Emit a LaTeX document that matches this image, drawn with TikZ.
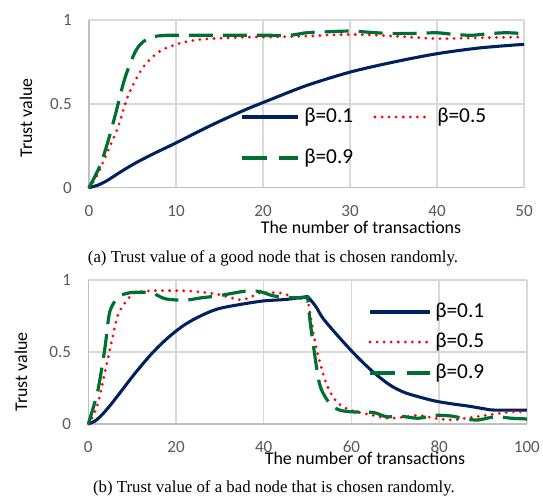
\documentclass[tikz,border=0pt]{standalone}
\usepackage{fontspec}
\setmainfont{Liberation Serif}
\newfontfamily\carl{Carlito}
\definecolor{navyc}{RGB}{0,32,96}
\definecolor{redc}{RGB}{255,0,0}
\definecolor{greenc}{RGB}{0,112,50}
\definecolor{gridc}{RGB}{217,217,217}
\definecolor{axisc}{RGB}{191,191,191}
\definecolor{tickc}{RGB}{89,89,89}
\tikzset{
 gridline/.style={draw=gridc, line width=1.1pt},
 axisline/.style={draw=axisc, line width=1.1pt},
 ticklab/.style={font=\carl\fontsize{12.8}{14}\selectfont, text=tickc, inner sep=0pt},
 axtitle/.style={font=\carl\fontsize{13.4}{15}\selectfont, inner sep=0pt},
 legtext/.style={font=\carl\fontsize{16}{18}\selectfont, inner sep=0pt, anchor=west},
 captext/.style={font=\fontsize{12.6}{14}\selectfont, inner sep=0pt},
 sline/.style={draw=navyc, line width=2.3pt, line join=round},
 dline/.style={draw=redc, line width=2.3pt, dash pattern=on 0pt off 5.3pt, line cap=round},
 gline/.style={draw=greenc, line width=2.4pt, dash pattern=on 18pt off 7.5pt},
}
\begin{document}
\begin{tikzpicture}[x=0.75pt, y=-0.75pt]
\path[use as bounding box] (0,0) rectangle (543,497);

% ---------------- top plot ----------------
\begin{scope}[shift={(66.75pt,-140.775pt)}, x=6.525pt, y=125.625pt]
  \foreach \i in {10,20,30,40,50} \draw[gridline] (\i,0) -- (\i,1);
  \foreach \j in {0.5,1} \draw[gridline] (0,\j) -- (50,\j);
  \draw[axisline] (0,1) -- (0,0) -- (50,0);
  \foreach \i in {0,10,20,30,40,50}
    \node[ticklab] (tx\i) at ([yshift=-17.25pt]\i,0) {\i};
  \node[ticklab, anchor=east] (ty0) at ([xshift=-12.75pt]0,0) {0};
  \node[ticklab, anchor=east] (ty5) at ([xshift=-12.75pt]0,0.5) {0.5};
  \node[ticklab, anchor=east] (ty1) at ([xshift=-12.75pt]0,1) {1};
  \draw[sline] plot[smooth] coordinates {(0,0) (1,0.015) (2,0.04) (3.5,0.09) (5.3,0.146) (7.5,0.205) (9.9,0.265) (14.1,0.374) (17.9,0.464) (20.8,0.525) (25,0.61) (30,0.69) (35,0.75) (40,0.80) (45,0.835) (50,0.856)};
  \draw[dline] plot[smooth] coordinates {(0,0) (0.8,0.06) (1.8,0.175) (2.6,0.27) (3.4,0.37) (4.5,0.55) (6.1,0.71) (8,0.81) (10.3,0.86) (13,0.886) (17.9,0.898) (21,0.90) (25,0.905) (30,0.915) (35,0.905) (40,0.89) (45,0.895) (50,0.90)};
  \draw[gline] plot[smooth] coordinates {(0,0) (1.3,0.135) (2.2,0.28) (3.0,0.43) (4.1,0.65) (5.3,0.81) (6.2,0.87) (7.2,0.90) (9,0.91) (11,0.91) (15,0.91) (20,0.91) (23,0.91) (25,0.925) (27,0.93) (30,0.935) (33,0.925) (35,0.92) (38,0.922) (40,0.925) (42,0.915) (44,0.91) (46,0.92) (48,0.925) (50,0.92)};
\end{scope}
\node[axtitle] (xta) at (361,227) {The number of transactions};
\node[axtitle, rotate=90] (yta) at (26,118) {Trust value};
% legend top
\coordinate (la1) at (242,117); \coordinate (la2) at (298,117);
\coordinate (la3) at (375,117); \coordinate (la4) at (430,117);
\coordinate (la5) at (242,158); \coordinate (la6) at (298,158);
\draw[sline] (la1) -- (la2);
\draw[dline] (la3) -- (la4);
\draw[gline, dash pattern=on 19pt off 9pt] (la5) -- (la6);
\node[legtext] (lta1) at (304,117) {β=0.1};
\node[legtext] (lta2) at (437,117) {β=0.5};
\node[legtext] (lta3) at (304,158) {β=0.9};
\node[captext] (capa) at (273,258) {(a) Trust value of a good node that is chosen randomly.};

% ---------------- bottom plot ----------------
\begin{scope}[shift={(66.225pt,-318pt)}, x=3.2895pt, y=108pt]
  \foreach \i in {20,40,60,80,100} \draw[gridline] (\i,0) -- (\i,1);
  \foreach \j in {0.5,1} \draw[gridline] (0,\j) -- (100,\j);
  \draw[axisline] (0,1) -- (0,0) -- (100,0);
  \foreach \i in {0,20,40,60,80,100}
    \node[ticklab] (bx\i) at ([yshift=-17.25pt]\i,0) {\i};
  \node[ticklab, anchor=east] (by0) at ([xshift=-12.75pt]0,0) {0};
  \node[ticklab, anchor=east] (by5) at ([xshift=-12.75pt]0,0.5) {0.5};
  \node[ticklab, anchor=east] (by1) at ([xshift=-12.75pt]0,1) {1};
  \draw[sline] plot[smooth] coordinates {(0,0) (0.4,0.005) (1.5,0.02) (3,0.06) (5,0.13) (6.8,0.2) (10.6,0.35) (14.5,0.49) (18.2,0.6) (22,0.69) (25.9,0.755) (29.6,0.80) (34.6,0.83) (40,0.855) (45,0.865) (50,0.885)}
     -- plot[smooth] coordinates {(50,0.885) (51,0.85) (52,0.81) (53.6,0.73) (57.4,0.595) (61.2,0.47) (65,0.36) (68.8,0.27) (72,0.22) (75.2,0.19) (79,0.16) (82.9,0.14) (86.5,0.125) (90.4,0.105) (92.5,0.097) (100,0.097)};
  \draw[dline] plot[smooth] coordinates {(0,0) (1,0.05) (2.3,0.155) (3.8,0.36) (5.3,0.57) (6.8,0.76) (8.8,0.86) (10.6,0.91) (14.5,0.925) (22,0.925) (26,0.915) (29.6,0.9) (33.4,0.87) (35,0.862) (37,0.88) (39.1,0.91) (43.7,0.91) (46,0.89) (48.3,0.87) (50,0.875)}
     -- plot[smooth] coordinates {(50,0.875) (50.9,0.71) (51.7,0.57) (52.8,0.43) (54.4,0.27) (56.6,0.155) (59.7,0.097) (65,0.06) (68,0.04) (71,0.045) (75.2,0.06) (79,0.04) (82.9,0.028) (86,0.04) (90.4,0.06) (94,0.075) (96.5,0.085) (100,0.085)};
  \draw[gline] plot[smooth] coordinates {(0,0) (1,0.1) (2.3,0.25) (3.8,0.53) (4.9,0.78) (6.8,0.88) (8.5,0.905) (10.6,0.915) (14.5,0.91) (17.5,0.87) (22,0.86) (25.9,0.877) (29.6,0.89) (35.7,0.922) (39.1,0.92) (42.2,0.89) (46.7,0.877) (50,0.88)}
     -- plot[smooth] coordinates {(50,0.88) (50.5,0.73) (51.3,0.55) (52.8,0.27) (55.1,0.14) (57,0.1) (59.7,0.085) (65,0.08) (68,0.05) (71,0.055) (75.2,0.04) (79,0.06) (82.9,0.055) (86,0.035) (88.9,0.028) (92.7,0.05) (96.5,0.04) (100,0.035)};
\end{scope}
\node[axtitle] (xtb) at (365,458) {The number of transactions};
\node[axtitle, rotate=90] (ytb) at (21,372) {Trust value};
% legend bottom
\coordinate (lb1) at (370,312); \coordinate (lb2) at (430,312);
\coordinate (lb3) at (370,342); \coordinate (lb4) at (430,342);
\coordinate (lb5) at (370,373); \coordinate (lb6) at (430,373);
\draw[sline] (lb1) -- (lb2);
\draw[dline] (lb3) -- (lb4);
\draw[gline, dash pattern=on 19pt off 9pt] (lb5) -- (lb6);
\node[legtext] (ltb1) at (435,312) {β=0.1};
\node[legtext] (ltb2) at (435,342) {β=0.5};
\node[legtext] (ltb3) at (435,373) {β=0.9};
\node[captext] (capb) at (274,488) {(b) Trust value of a bad node that is chosen randomly.};
\end{tikzpicture}
\end{document}
